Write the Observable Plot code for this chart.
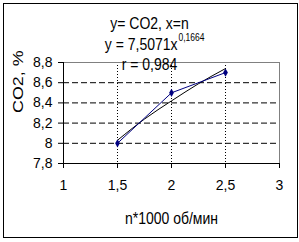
<!DOCTYPE html>
<html>
<head>
<meta charset="utf-8">
<script src="https://cdn.jsdelivr.net/npm/d3@7"></script>
<script src="https://cdn.jsdelivr.net/npm/@observablehq/plot@0.6"></script>
<style>
  html, body { margin: 0; padding: 0; background: white; }
  #wrap { position: relative; width: 299px; height: 242px; overflow: hidden; }
  #border { position: absolute; left: 3px; top: 3px; width: 295px; height: 235px; box-sizing: border-box; border: 1px solid black; pointer-events: none; }
</style>
</head>
<body>
<div id="wrap"><div id="border"></div></div>
<script>
// Data
const nValues = [1.5, 2, 2.5];
const co2Values = [8.0, 8.5, 8.7];
const trendN = [1.5, 1.75, 2, 2.25, 2.5];
const trendCO2 = [8.03, 8.24, 8.42, 8.59, 8.74];
const xTicks = [1, 1.5, 2, 2.5, 3];
const yTicks = [7.8, 8.0, 8.2, 8.4, 8.6, 8.8];
const yGrid = [8.0, 8.2, 8.4, 8.6];
const xGrid = [1.5, 2, 2.5];
const titleLine1 = "y= CO2, x=n";
const titleLine2 = "y = 7,5071x";
const titleSup = "0,1664";
const titleLine3 = "r = 0,984";
const xLabel = "n*1000 об/мин";
const yLabel = "CO2, %";

const fmt = d => String(d).replace(".", ",");
const data = nValues.map((n, i) => ({n, co2: co2Values[i]}));
const trend = trendN.map((n, i) => ({n, co2: trendCO2[i]}));

const chart = Plot.plot({
  width: 299,
  height: 242,
  marginLeft: 63,
  marginRight: 20,
  marginTop: 62,
  marginBottom: 79,
  style: {fontFamily: "'Liberation Sans', Arial, sans-serif", fontSize: "14px", background: "transparent", color: "black", overflow: "visible"},
  x: {domain: [1, 3]},
  y: {domain: [7.8, 8.8]},
  marks: [
    Plot.ruleY(yGrid, {y: d => d, stroke: "black", strokeDasharray: "6,3", strokeWidth: 1}),
    Plot.ruleX(xGrid, {x: d => d, stroke: "black", strokeDasharray: "1,2", strokeWidth: 1}),
    Plot.frame({stroke: "#808080", strokeWidth: 1}),
    Plot.ruleX([1], {x: d => d, stroke: "black"}),
    Plot.ruleY([7.8], {y: d => d, stroke: "black"}),
    Plot.axisX({ticks: xTicks, tickFormat: fmt, tickSize: 5, tickPadding: 12, label: null, fontSize: 14}),
    Plot.axisY({ticks: yTicks, tickFormat: fmt, tickSize: 5, tickPadding: 6, label: null, fontSize: 14}),
    Plot.line(trend, {x: "n", y: "co2", stroke: "black", strokeWidth: 1, curve: "natural"}),
    Plot.line(data, {x: "n", y: "co2", stroke: "#000080", strokeWidth: 1}),
    Plot.dot(data, {x: "n", y: "co2", symbol: "diamond", r: 2.5, fill: "#000080", stroke: "none"}),
    Plot.text([titleLine1], {text: d => d, frameAnchor: "top-left", dx: 86, dy: -39, textAnchor: "middle", lineAnchor: "middle", fontSize: 14}),
    Plot.text([titleLine2], {text: d => d, frameAnchor: "top-left", dx: 114, dy: -18, textAnchor: "end", lineAnchor: "middle", fontSize: 14}),
    Plot.text([titleSup], {text: d => d, frameAnchor: "top-left", dx: 115, dy: -25, textAnchor: "start", lineAnchor: "middle", fontSize: 8.5}),
    Plot.text([titleLine3], {text: d => d, frameAnchor: "top-left", dx: 86, dy: 2, textAnchor: "middle", lineAnchor: "middle", fontSize: 14}),
    Plot.text([xLabel], {text: d => d, frameAnchor: "bottom", dy: 55, lineAnchor: "middle", fontSize: 14}),
    Plot.text([yLabel], {text: d => d, frameAnchor: "left", dx: -45, rotate: -90, lineAnchor: "middle", fontSize: 14})
  ]
});
// the reference's lettering is stretched (tall, narrow glyphs)
const tall = new Set([titleLine1, titleLine2, titleSup, titleLine3, xLabel]);
chart.querySelectorAll("text").forEach(t => {
  const tr = t.getAttribute("transform") || "";
  if (t.textContent === yLabel) t.setAttribute("transform", tr + " scale(1.28,1)");
  else if (tall.has(t.textContent)) t.setAttribute("transform", tr + " scale(1,1.18)");
});
document.getElementById("wrap").prepend(chart);
</script>
</body>
</html>
